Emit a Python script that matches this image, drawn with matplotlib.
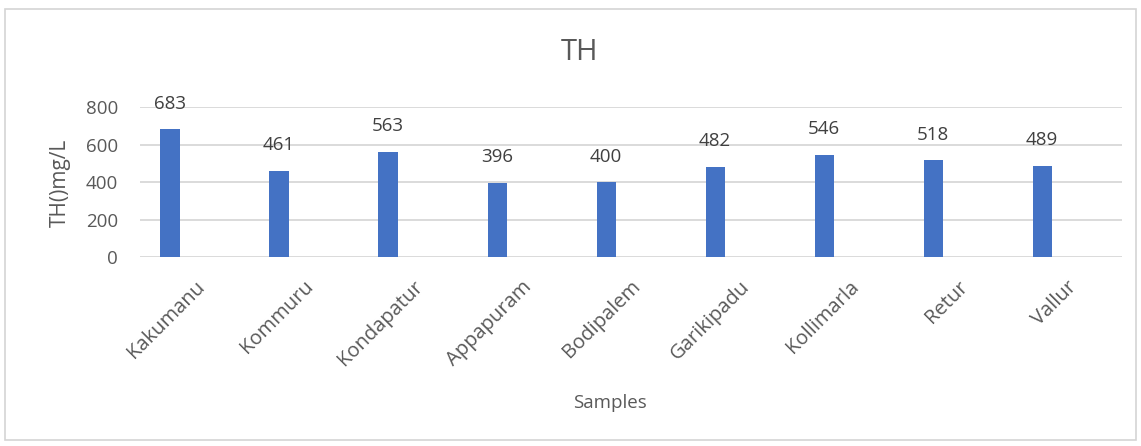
"""Recreate the Excel-style 'TH' column chart (total hardness per sample site)."""

import numpy as np
import matplotlib

matplotlib.use("Agg")
import matplotlib.pyplot as plt  # noqa: E402
from matplotlib.patches import FancyBboxPatch  # noqa: E402

samples = ["Kakumanu", "Kommuru", "Kondapatur", "Appapuram", "Bodipalem",
           "Garikipadu", "Kollimarla", "Retur", "Vallur"]
th_values = [683, 461, 563, 396, 400, 482, 546, 518, 489]
y_ticks = [0, 200, 400, 600, 800]

BAR_COLOR = "#4472C4"
GRID_COLOR = "#d4d4d4"
TEXT_COLOR = "#595959"

plt.rcParams["font.family"] = ["Open Sans", "DejaVu Sans"]

fig = plt.figure(figsize=(11.41, 4.46), dpi=100)
ax = fig.add_axes([0.1227, 0.4231, 0.8607, 0.3363])

x = np.arange(len(samples))
ax.bar(x, th_values, width=0.175, color=BAR_COLOR, zorder=3)
for xi, v in zip(x, th_values):
    ax.annotate(str(v), (xi, v), xytext=(0, 12), textcoords="offset points",
                ha="center", va="bottom", fontsize=13.5, color="#404040")

ax.set_xlim(-0.275, len(samples) - 1 + 0.733)
ax.set_ylim(0, 800)
ax.set_yticks(y_ticks)
ax.yaxis.grid(True, color=GRID_COLOR, lw=1.2, zorder=0)
ax.tick_params(axis="y", length=0, pad=16, labelsize=13.5, labelcolor=TEXT_COLOR)

# category labels sit at the cluster centre (Excel leaves room for a 2nd series)
ax.set_xticks(x + 0.225)
ax.set_xticklabels(samples, rotation=45, ha="right", rotation_mode="anchor",
                   fontsize=14.5, color=TEXT_COLOR)
ax.tick_params(axis="x", length=0, pad=14)
for spine in ax.spines.values():
    spine.set_visible(False)

fig.text(0.508, 0.883, "TH", ha="center", va="center", fontsize=21, color=TEXT_COLOR)
fig.text(0.535, 0.097, "Samples", ha="center", va="center", fontsize=13.5, color=TEXT_COLOR)
fig.text(0.053, 0.59, "TH()mg/L", ha="center", va="center", rotation=90,
         fontsize=15, color=TEXT_COLOR)

# light chart-area border
fig.patches.append(FancyBboxPatch((0.004, 0.013), 0.992, 0.967,
                                  boxstyle="square,pad=0", transform=fig.transFigure,
                                  fill=False, ec=GRID_COLOR, lw=1.2))

fig.savefig("out.png", dpi=100)
plt.close(fig)
